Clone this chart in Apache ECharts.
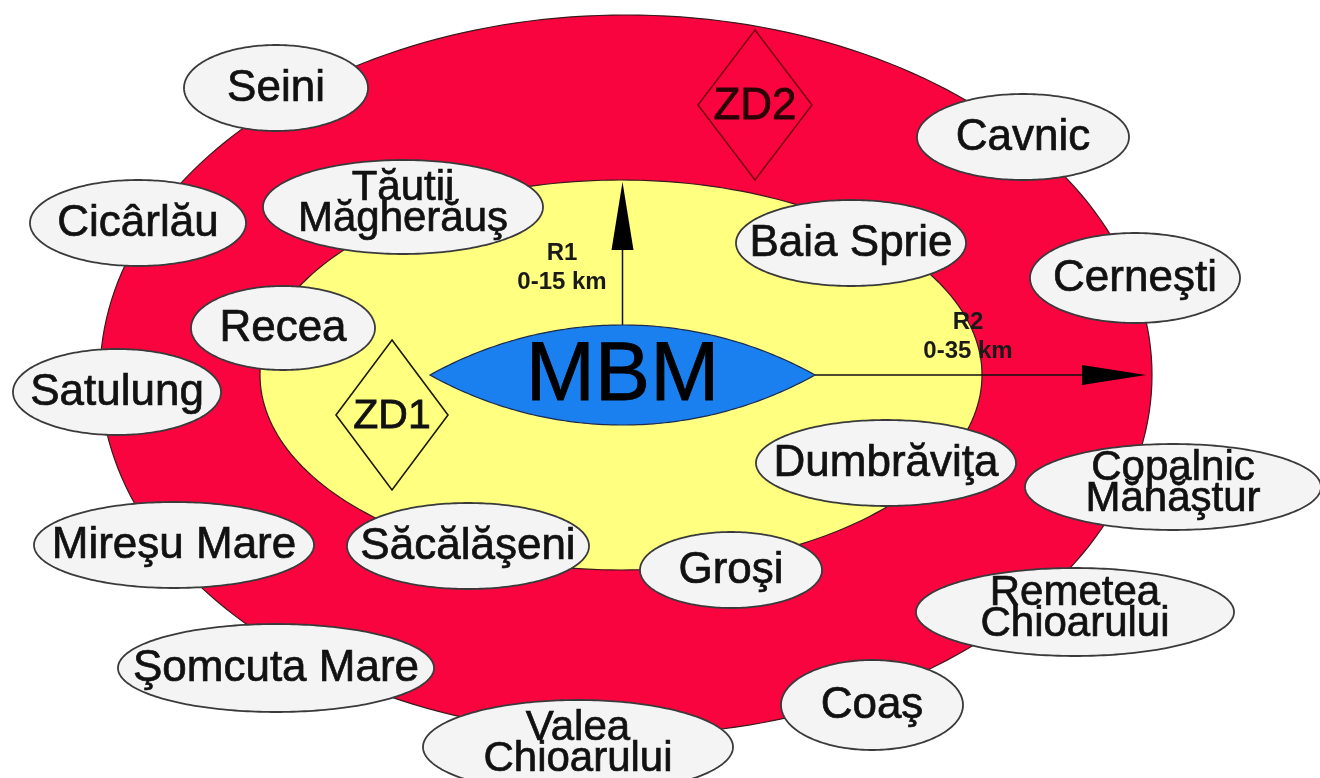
<!DOCTYPE html>
<html><head><meta charset="utf-8">
<script src="https://cdn.jsdelivr.net/npm/echarts@6/dist/echarts.min.js"></script>
<style>html,body{margin:0;padding:0;background:#fff}#c{width:1320px;height:778px}</style>
</head><body><div id="c"></div>
<script>
// Diagram data (diagram units, y grows downward)
const towns = ['Seini','Cavnic','Tăutii\nMăgherăuş','Cicârlău','Baia Sprie','Cerneşti','Recea','Satulung','Dumbrăviţa','Copalnic\nMănăştur','Mireşu Mare','Săcălăşeni','Groşi','Remetea\nChioarului','Şomcuta Mare','Coaş','Valea\nChioarului'];
const townX  = [276,1023,403,138,851,1135,283,117,886,1173,174,468,731,1075,276,872,578];
const townY  = [88,137,207,223,243,278,328,392,463,487,545,546,570,612,668,705,747];
const townRx = [92,106,140,108,115,105,92,104,130,148,140,121,91,159,158,91,155];
const townRy = [43,43,47,43,43,45,42,43,43,43,43,43,38,44,44,45,47];

const zones      = ['R2','R1'];
const zoneCx     = [626,621];
const zoneCy     = [375,375];
const zoneRx     = [526,361];
const zoneRy     = [360,195];
const zoneLabels = ['R2\n0-35 km','R1\n0-15 km'];
const zoneLabelX = [968,562];
const zoneLabelY = [337,268];

const coreName = ['MBM'];
const coreLeft = [430], coreRight = [815], coreY = [375], coreHalfH = [50];

const hazards = ['ZD1','ZD2'];
const hazardX = [392,755];
const hazardY = [415,105];
const hazardHW = [56,57];
const hazardHH = [75,75];

const FONT = '"Liberation Sans", Arial, sans-serif';
const chart = echarts.init(document.getElementById('c'), null, {renderer:'canvas'});

function ellipsePts(api, cx, cy, rx, ry){
  const p=[]; for(let k=0;k<240;k++){const t=k/240*2*Math.PI; p.push(api.coord([cx+rx*Math.cos(t), cy+ry*Math.sin(t)]));} return p;
}
function txt(x,y,text,size,opts){
  return {type:'text', x:x, y:y, style:Object.assign({text:text, fontSize:size, fontFamily:FONT, fill:'#111',
    stroke:'#111', lineWidth:0.7,
    align:'center', verticalAlign:'middle', textAlign:'center', textVerticalAlign:'middle'}, opts||{})};
}

const option = {
  animation:false,
  grid:{left:0,right:0,top:0,bottom:0},
  xAxis:{type:'value',min:0,max:1320,show:false},
  yAxis:{type:'value',min:0,max:778,inverse:true,show:false},
  series:[
    { // zones
      type:'custom', z:1, data: zones.map((n,i)=>[zoneCx[i],zoneCy[i]]),
      renderItem(params, api){
        const i=params.dataIndex;
        return {type:'polygon', shape:{points:ellipsePts(api,zoneCx[i],zoneCy[i],zoneRx[i],zoneRy[i])},
          style:{fill: i===0?'#fa0440':'#ffff80', stroke:'#3a1a1a', lineWidth:1.2}};
      }
    },
    { // arrows
      type:'custom', z:2, data: zones.map((n,i)=>[zoneCx[i],zoneCy[i]]),
      renderItem(params, api){
        const i=params.dataIndex;
        const mid=(coreLeft[0]+coreRight[0])/2;
        if(i===1){ // R1 up to top of R1 zone
          const tip=zoneCy[1]-zoneRy[1]+2;
          const a=api.coord([mid,coreY[0]-coreHalfH[0]]), b=api.coord([mid,tip]);
          return {type:'group',children:[
            {type:'line',shape:{x1:a[0],y1:a[1],x2:b[0],y2:b[1]+60},style:{stroke:'#111',lineWidth:1.5}},
            {type:'polygon',shape:{points:[[b[0],b[1]],[b[0]-11,b[1]+68],[b[0]+11,b[1]+68]]},style:{fill:'#000'}}
          ]};
        } else { // R2 to the right edge of R2 zone
          const tip=zoneCx[0]+zoneRx[0]-6;
          const a=api.coord([coreRight[0],coreY[0]]), b=api.coord([tip,coreY[0]]);
          return {type:'group',children:[
            {type:'line',shape:{x1:a[0],y1:a[1],x2:b[0]-55,y2:b[1]},style:{stroke:'#111',lineWidth:1.5}},
            {type:'polygon',shape:{points:[[b[0],b[1]],[b[0]-64,b[1]-10],[b[0]-64,b[1]+10]]},style:{fill:'#000'}}
          ]};
        }
      }
    },
    { // core lens
      type:'custom', z:3, data:[[ (coreLeft[0]+coreRight[0])/2, coreY[0] ]],
      renderItem(params, api){
        const a=(coreRight[0]-coreLeft[0])/2, h=coreHalfH[0], R=(a*a+h*h)/(2*h);
        const cx=(coreLeft[0]+coreRight[0])/2, cy=coreY[0];
        const pts=[];
        for(let k=0;k<=100;k++){const x=coreLeft[0]+k/100*2*a; const dy=Math.sqrt(R*R-(x-cx)*(x-cx))-(R-h); pts.push(api.coord([x,cy-dy]));}
        for(let k=100;k>=0;k--){const x=coreLeft[0]+k/100*2*a; const dy=Math.sqrt(R*R-(x-cx)*(x-cx))-(R-h); pts.push(api.coord([x,cy+dy]));}
        const c=api.coord([cx,cy]);
        return {type:'group',children:[
          {type:'polygon',shape:{points:pts},style:{fill:'#1a80f0',stroke:'#1a2a50',lineWidth:1.2}},
          txt(c[0],c[1]+2,coreName[0],83,{fill:'#000',stroke:'#000',lineWidth:0.8})
        ]};
      }
    },
    { // hazard zones
      type:'custom', z:3, data: hazards.map((n,i)=>[hazardX[i],hazardY[i]]),
      renderItem(params, api){
        const i=params.dataIndex;
        const c=api.coord([hazardX[i],hazardY[i]]), s=api.size([hazardHW[i],hazardHH[i]]);
        const col = i===1 ? '#7a0010' : '#1a1a00';
        const tc = i===1 ? '#2a0006' : '#111';
        return {type:'group',children:[
          {type:'polygon',shape:{points:[[c[0],c[1]-s[1]],[c[0]+s[0],c[1]],[c[0],c[1]+s[1]],[c[0]-s[0],c[1]]]},
            style:{fill:'none',stroke:col,lineWidth:1.6}},
          txt(c[0],c[1]+2,hazards[i], i===1?44:41,{fill:tc,stroke:tc,lineWidth:0.8})
        ]};
      }
    },
    { // towns
      type:'custom', z:4, data: towns.map((n,i)=>[townX[i],townY[i]]),
      renderItem(params, api){
        const i=params.dataIndex;
        const c=api.coord([townX[i],townY[i]]);
        const two = towns[i].indexOf('\n')>=0;
        return {type:'group',children:[
          {type:'polygon',shape:{points:ellipsePts(api,townX[i],townY[i],townRx[i],townRy[i])},
            style:{fill:'#f4f4f4',stroke:'#3a3a3a',lineWidth:1.8}},
          txt(c[0],c[1]+ (two?-3:1),towns[i], two?42:44,{lineHeight:31})
        ]};
      }
    },
    { // zone labels
      type:'custom', z:5, data: zones.map((n,i)=>[zoneLabelX[i],zoneLabelY[i]]),
      renderItem(params, api){
        const i=params.dataIndex;
        const c=api.coord([zoneLabelX[i],zoneLabelY[i]]);
        return txt(c[0],c[1],zoneLabels[i],24,{fontWeight:'bold',lineHeight:29,fill:'#1a1a1a',lineWidth:0});
      }
    }
  ]
};
chart.setOption(option);
</script></body></html>
